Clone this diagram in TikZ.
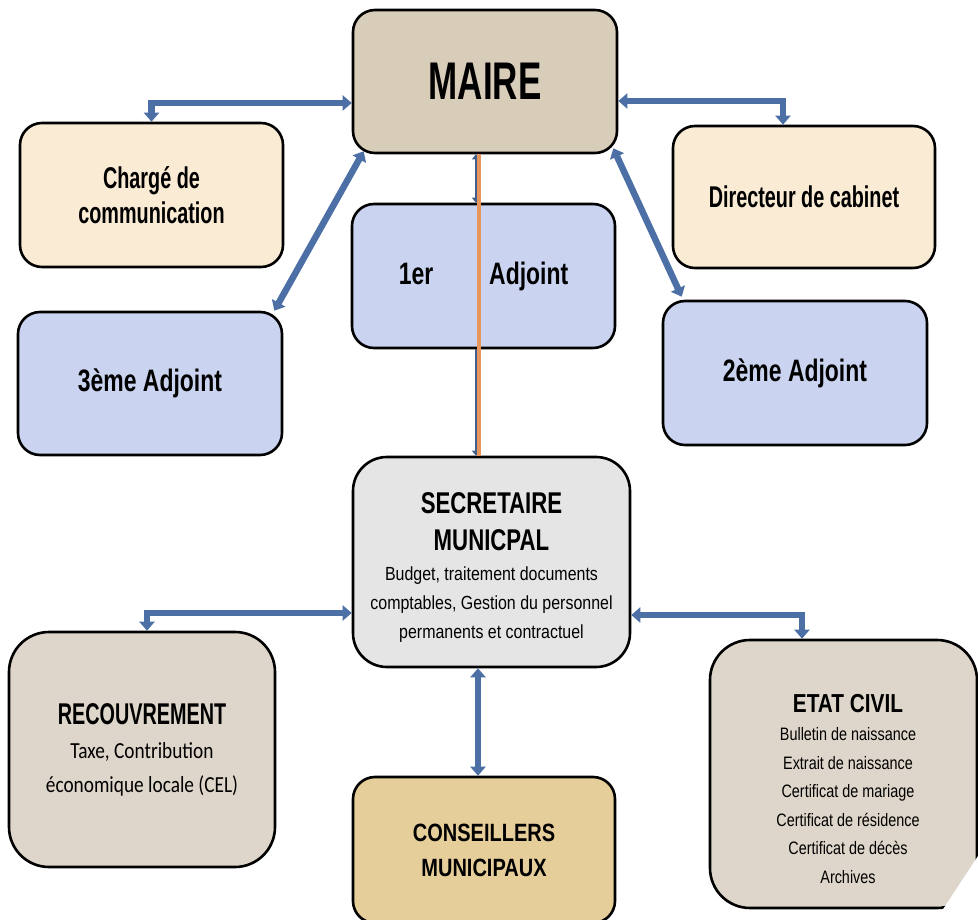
\documentclass[tikz,border=0pt]{standalone}
\usepackage{fontspec}
\setmainfont{Liberation Sans}
\newfontfamily\fA{Liberation Sans}[FakeStretch=0.66]
\newfontfamily\fB{Liberation Sans}[FakeStretch=0.74]
\newfontfamily\fC{Liberation Sans}[FakeStretch=0.80]
\newfontfamily\fE{Liberation Sans}[FakeStretch=0.84]
\newfontfamily\fD{Carlito}[FakeStretch=0.84]
\usetikzlibrary{arrows.meta,calc}
\definecolor{arrowblue}{RGB}{76,112,166}
\definecolor{orangeln}{RGB}{232,150,92}
\definecolor{maireC}{RGB}{216,205,184}
\definecolor{creamC}{RGB}{250,236,212}
\definecolor{blueC}{RGB}{202,212,240}
\definecolor{secC}{RGB}{229,229,229}
\definecolor{graniteC}{RGB}{222,214,202}
\definecolor{papyrusC}{RGB}{230,206,154}
\tikzset{
  box/.style={draw=black, line width=2.6pt, rounded corners=22pt, inner sep=0pt, align=center},
  barrow/.style={draw=arrowblue, line width=6.5pt,
    {Triangle[width=15pt,length=9pt]}-{Triangle[width=15pt,length=9pt]}},
  thinarrow/.style={draw=arrowblue!85!black, line width=2pt,
    {Triangle[width=8pt,length=5pt]}-{Triangle[width=8pt,length=5pt]}},
  thinarrowone/.style={draw=arrowblue!85!black, line width=2pt,
    -{Triangle[width=8pt,length=5pt]}},
  orangeline/.style={draw=orangeln, line width=4pt},
  bigtitle/.style={font=\fA\bfseries\fontsize{30}{35}\selectfont},
  adjtitle/.style={font=\fB\bfseries\fontsize{31}{36}\selectfont},
}
\begin{document}
\begin{tikzpicture}[x=1pt,y=-1pt]
\clip (0,0) rectangle (978,920);
\fill[white] (0,0) rectangle (978,920);

% boxes
\node[box, fill=maireC, minimum width=264pt, minimum height=143pt,
      font=\fA\bfseries\fontsize{53}{60}\selectfont] (maire) at (485,81.5) {MAIRE};
\node[box, fill=creamC, minimum width=263pt, minimum height=144pt, bigtitle] (charge) at (151.5,195) {Chargé de\\communication};
\node[box, fill=creamC, minimum width=262pt, minimum height=142pt, bigtitle] (dir) at (804,197) {Directeur de cabinet};
\node[box, fill=blueC, minimum width=263pt, minimum height=144pt, adjtitle] (adj1) at (483.5,276) {1er\hspace{56pt}Adjoint};
\node[box, fill=blueC, minimum width=264pt, minimum height=143pt, adjtitle] (adj3) at (150,383.5) {3ème Adjoint};
\node[box, fill=blueC, minimum width=264pt, minimum height=144pt, adjtitle] (adj2) at (795,373) {2ème Adjoint};

\node[box, fill=secC, rounded corners=34pt, minimum width=277pt, minimum height=210pt] (sec) at (491.5,562) {};
\node[align=center, font=\fE\fontsize{19}{29}\selectfont] (sectext) at (491.5,567)
  {{\fB\bfseries\fontsize{30}{36}\selectfont SECRETAIRE}\\[8pt]
   {\fB\bfseries\fontsize{30}{36}\selectfont MUNICPAL}\\[1pt]
   Budget, traitement documents\\
   comptables, Gestion du personnel\\
   permanents et contractuel};

\node[box, fill=graniteC, rounded corners=40pt, minimum width=266pt, minimum height=235pt] (rec) at (142,749.5) {};
\node[align=center, font=\fD\fontsize{23}{34}\selectfont] (rectext) at (142,750)
  {{\fA\bfseries\fontsize{30}{36}\selectfont RECOUVREMENT}\\
   Taxe, Contribution\\
   économique locale (CEL)};

\node[box, fill=papyrusC, minimum width=262pt, minimum height=146pt,
      font=\fC\bfseries\fontsize{25}{35}\selectfont] (cons) at (484,850) {CONSEILLERS\\MUNICIPAUX};

\node[box, fill=graniteC, rounded corners=40pt, minimum width=267pt, minimum height=268pt] (etat) at (843.5,774) {};
\node[align=center, font=\fC\fontsize{18}{28.5}\selectfont] (etattext) at (848,789)
  {{\fC\bfseries\fontsize{26}{30}\selectfont ETAT CIVIL}\\
   Bulletin de naissance\\
   Extrait de naissance\\
   Certificat de mariage\\
   Certificat de résidence\\
   Certificat de décès\\
   Archives};

% connectors
\draw[barrow] (charge.north) |- (maire.west |- 0,103);
\draw[barrow] (maire.east |- 0,101) -| (dir.north -| 783,0);
\draw[barrow] ($(maire.south west)+(12,-3)$) -- ($(adj3.north east)+(-9,0)$);
\draw[barrow] ($(maire.south east)+(-5,-6)$) -- ($(adj2.north west)+(20,-3)$);

\draw[thinarrow] (maire.south -| 476,0) -- (adj1.north -| 476,0);
\draw[thinarrowone] (adj1.south -| 476,0) -- (sec.north -| 476,0);
\draw[orangeline] (maire.south -| 479,0) -- (sec.north -| 479,0);

\draw[barrow] (rec.north -| 147,0) |- (sec.west |- 0,613);
\draw[barrow] (sec.east |- 0,615) -| (etat.north -| 802,0);
\draw[barrow] (sec.south -| 478,0) -- (cons.north -| 478,0);

% cut corner of the picture
\fill[white] (978,856) -- (978,920) -- (936,920) -- cycle;
\end{tikzpicture}
\end{document}
